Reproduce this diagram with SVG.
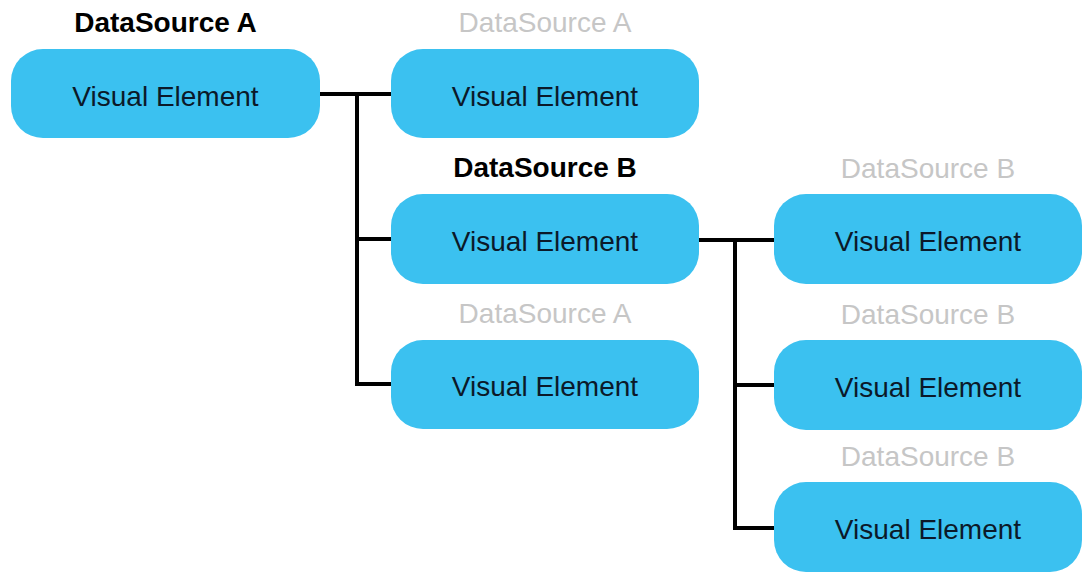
<svg xmlns="http://www.w3.org/2000/svg" width="1086" height="588" viewBox="0 0 1086 588">
<style>
.box{fill:#3bc1f0}
.t{font-family:"Liberation Sans",Arial,sans-serif;font-size:28px;text-anchor:middle;fill:#0b1929}
.src{font-family:"Liberation Sans",Arial,sans-serif;font-size:28px;text-anchor:middle;fill:#c6c6c6}
.srcb{font-family:"Liberation Sans",Arial,sans-serif;font-size:28px;font-weight:bold;text-anchor:middle;fill:#000}
.c{fill:none;stroke:#000;stroke-width:4;stroke-linejoin:miter}
</style>
<rect width="1086" height="588" fill="#fff"/>
<g id="connectors">
<path class="c" d="M320,94 H391"/>
<path class="c" d="M357,94 V384 H391"/>
<path class="c" d="M357,239 H391"/>
<path class="c" d="M699,240 H774"/>
<path class="c" d="M735,240 V528 H774"/>
<path class="c" d="M735,385 H774"/>
</g>
<g id="n1">
<text class="srcb" x="165.5" y="32">DataSource A</text>
<rect class="box" x="11" y="49" width="309" height="89" rx="32"/>
<text class="t" x="165.5" y="106">Visual Element</text>
</g>
<g id="n2">
<text class="src" x="545" y="32">DataSource A</text>
<rect class="box" x="391" y="49" width="308" height="89" rx="32"/>
<text class="t" x="545" y="106">Visual Element</text>
</g>
<g id="n3">
<text class="srcb" x="545" y="177">DataSource B</text>
<rect class="box" x="391" y="194" width="308" height="90" rx="32"/>
<text class="t" x="545" y="251">Visual Element</text>
</g>
<g id="n4">
<text class="src" x="545" y="323">DataSource A</text>
<rect class="box" x="391" y="340" width="308" height="89" rx="32"/>
<text class="t" x="545" y="396">Visual Element</text>
</g>
<g id="n5">
<text class="src" x="928" y="178">DataSource B</text>
<rect class="box" x="774" y="194" width="308" height="90" rx="32"/>
<text class="t" x="928" y="251">Visual Element</text>
</g>
<g id="n6">
<text class="src" x="928" y="324">DataSource B</text>
<rect class="box" x="774" y="340" width="308" height="90" rx="32"/>
<text class="t" x="928" y="397">Visual Element</text>
</g>
<g id="n7">
<text class="src" x="928" y="466">DataSource B</text>
<rect class="box" x="774" y="482" width="308" height="90" rx="32"/>
<text class="t" x="928" y="539">Visual Element</text>
</g>
</svg>
